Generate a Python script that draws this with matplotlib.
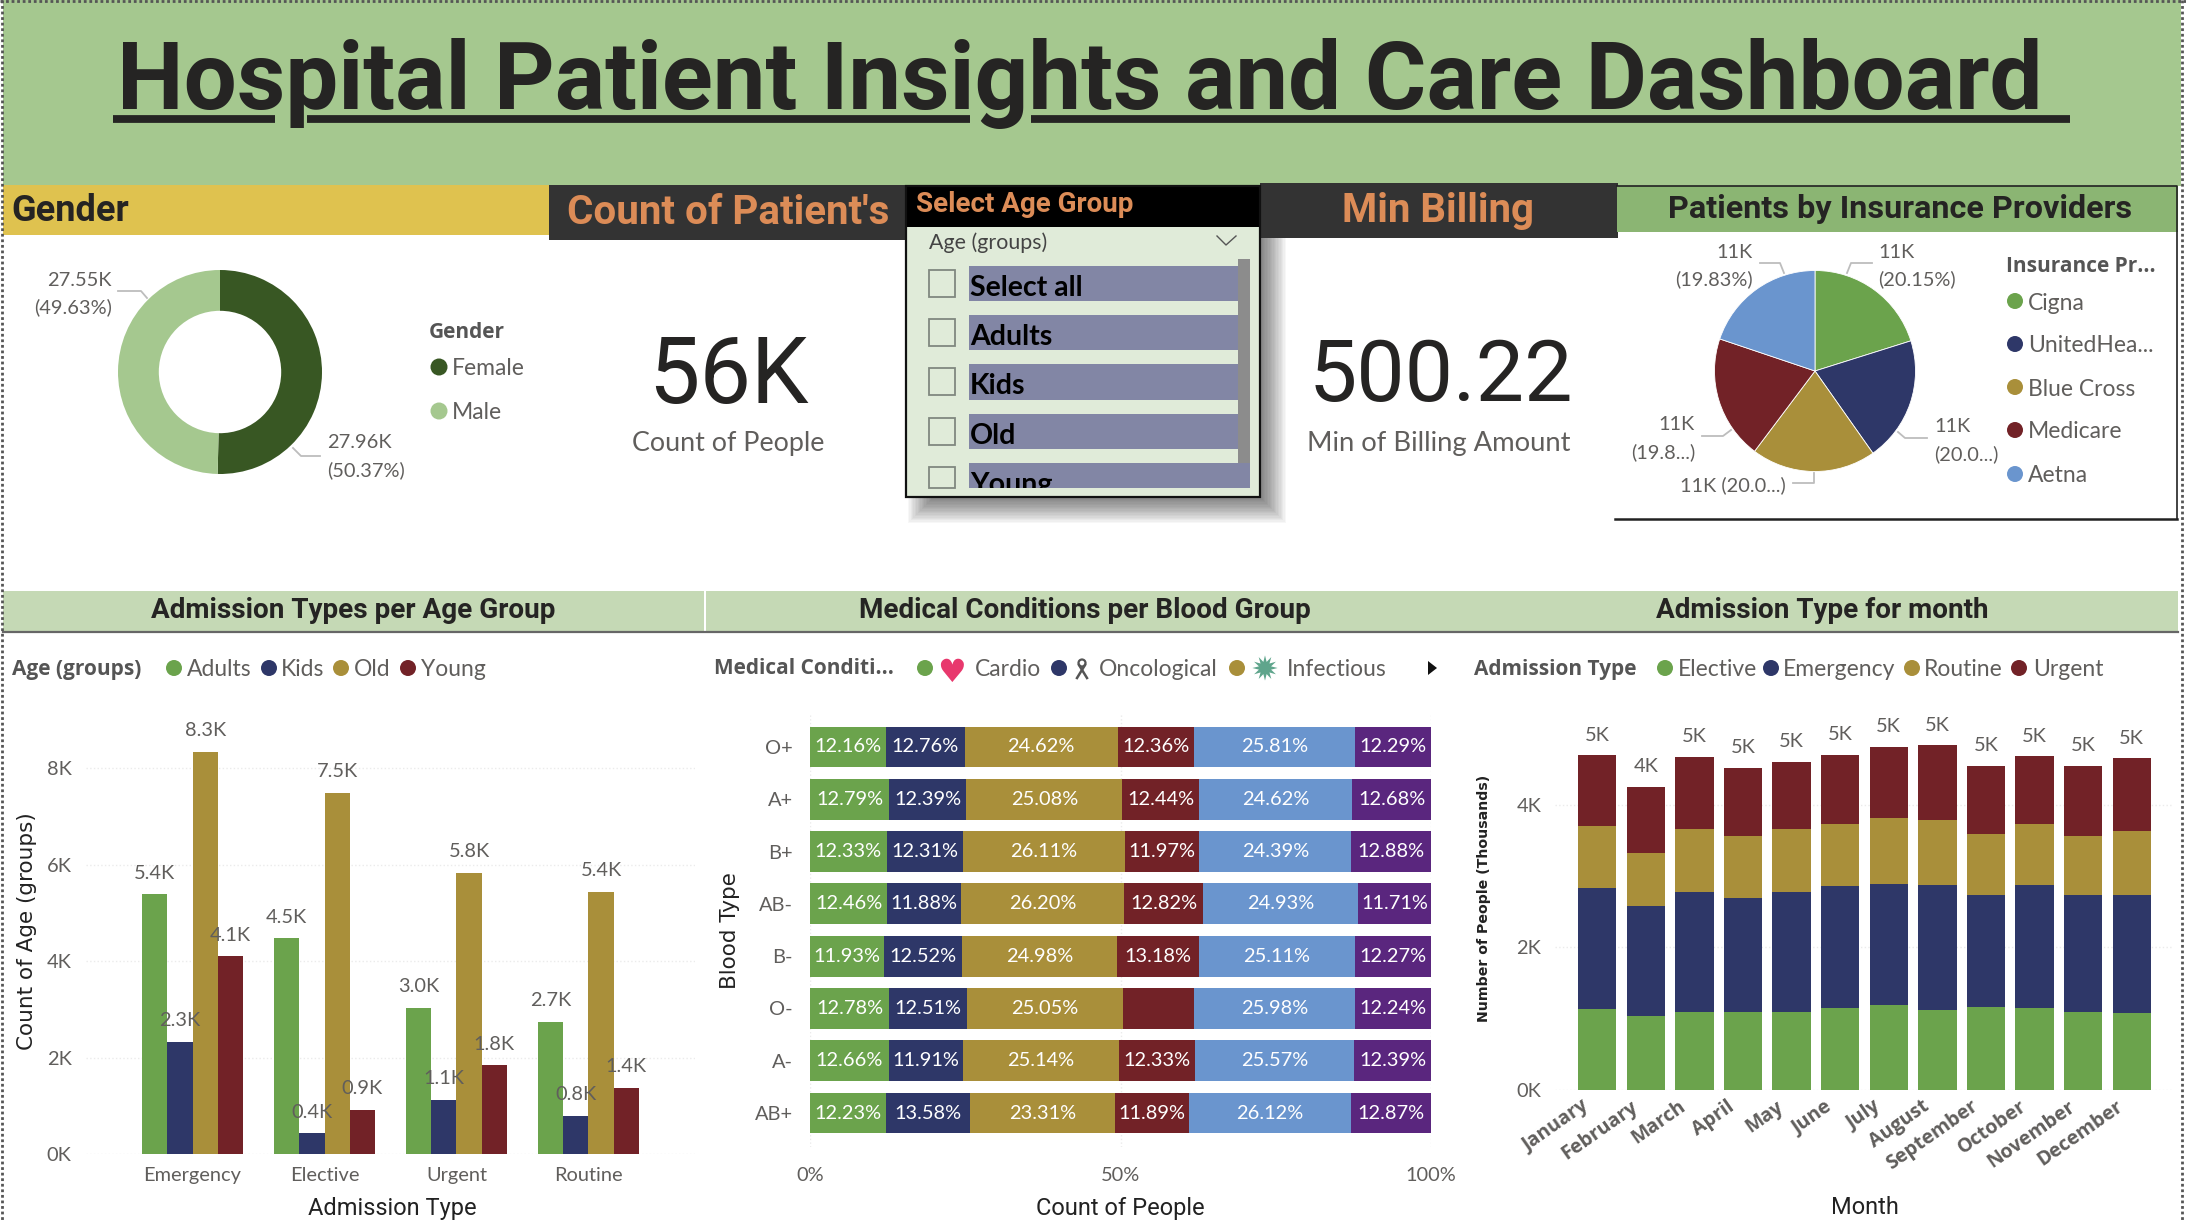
import matplotlib
matplotlib.use("Agg")
import matplotlib.pyplot as plt
from matplotlib.patches import Rectangle, Circle, Polygon
from matplotlib.transforms import ScaledTranslation

W, H = 2186, 1220

# --- data ---
gender_names = ["Female", "Male"]
gender_values = [27.96, 27.55]
gender_pct = ["50.37%", "49.63%"]

insurance_names = ["Cigna", "UnitedHea...", "Blue Cross", "Medicare", "Aetna"]
insurance_values = [20.15, 20.08, 20.04, 19.90, 19.83]

slicer_items = ["Select all", "Adults", "Kids", "Old", "Young"]

admission_types = ["Emergency", "Elective", "Urgent", "Routine"]
age_groups = ["Adults", "Kids", "Old", "Young"]
adults = [5.39, 4.48, 3.03, 2.74]
kids = [2.33, 0.43, 1.13, 0.79]
old = [8.34, 7.49, 5.84, 5.44]
young = [4.10, 0.92, 1.84, 1.37]

blood_types = ["O+", "A+", "B+", "AB-", "B-", "O-", "A-", "AB+"]
cond_1 = [12.16, 12.79, 12.33, 12.46, 11.93, 12.78, 12.66, 12.23]
cond_2 = [12.76, 12.39, 12.31, 11.88, 12.52, 12.51, 11.91, 13.58]
cond_3 = [24.62, 25.08, 26.11, 26.20, 24.98, 25.05, 25.14, 23.31]
cond_4 = [12.36, 12.44, 11.97, 12.82, 13.18, 11.44, 12.33, 11.89]
cond_5 = [25.81, 24.62, 24.39, 24.93, 25.11, 25.98, 25.57, 26.12]
cond_6 = [12.29, 12.68, 12.88, 11.71, 12.27, 12.24, 12.39, 12.87]

months = ["January", "February", "March", "April", "May", "June", "July",
          "August", "September", "October", "November", "December"]
elective = [1.136, 1.033, 1.090, 1.090, 1.096, 1.142, 1.188, 1.119, 1.159, 1.142, 1.090, 1.073]
emergency = [1.704, 1.543, 1.692, 1.606, 1.687, 1.727, 1.704, 1.761, 1.583, 1.733, 1.652, 1.664]
routine = [0.866, 0.757, 0.884, 0.872, 0.878, 0.861, 0.929, 0.912, 0.849, 0.861, 0.826, 0.901]
urgent = [0.993, 0.929, 1.015, 0.958, 0.947, 0.975, 0.998, 1.050, 0.964, 0.952, 0.987, 1.021]

# --- colours and fonts ---
GREEN, NAVY, GOLD, MAROON, BLUE, PURPLE = "#6BA34C", "#2E3768", "#A98F3A", "#722227", "#6A95CE", "#5A267E"
GREY = "#605E5C"
ORANGE = "#DC8C57"
INK = "#252423"
HEAD = ["Liberation Sans Narrow", "Roboto", "DejaVu Sans"]
DIN = ["Roboto", "DejaVu Sans"]
BODY = ["Lato", "DejaVu Sans"]
BOLD = ["Open Sans", "DejaVu Sans"]
BODY_PT = 14.4
LEGEND_PT = 16.5
LEGEND_TITLE_PT = 15

fig = plt.figure(figsize=(W / 100, H / 100), dpi=100, facecolor="white")


def px_axes(x0, y0, x1, y1):
    # axes from pixel box, y measured from the top of the image
    ax = fig.add_axes([x0 / W, 1 - y1 / H, (x1 - x0) / W, (y1 - y0) / H])
    ax.patch.set_alpha(0)
    return ax


chrome = fig.add_axes([0, 0, 1, 1])
chrome.set_xlim(0, W)
chrome.set_ylim(H, 0)
chrome.axis("off")


def box(x0, y0, x1, y1, color, **kw):
    chrome.add_patch(Rectangle((x0, y0), x1 - x0, y1 - y0, facecolor=color, edgecolor="none", **kw))


def txt(x, y, s, size=BODY_PT, color=GREY, family=BODY, ha="left", weight="normal", va="center", **kw):
    return chrome.text(x, y, s, fontsize=size, color=color, family=family, ha=ha, va=va,
                       fontweight=weight, **kw)


def leader(xs, ys):
    chrome.plot(xs, ys, color="#BDBDBD", lw=1.3)


def legend_row(title, x_title, y, entries):
    txt(x_title, y + 1, title, size=LEGEND_TITLE_PT, weight="bold", color="#555555", family=BOLD)
    for dot_x, text_x, label, col in entries:
        chrome.add_patch(Circle((dot_x, y), 8, facecolor=col, edgecolor="none"))
        if label:
            txt(text_x, y + 1.5, label, size=LEGEND_PT)


# --- slicer shadow goes under every band ---
for i in range(20):
    grow = -13 + 26 * i / 19
    box(921 - grow, 200 - grow, 1273 + grow, 510 + grow, "#000000", alpha=0.03)

# --- header bands ---
box(3, 0, 2181, 186, "#A5C88F")
txt(1080, 109, "Hospital Patient Insights and Care Dashboard", size=67.8, color=INK,
    family=DIN, ha="center", weight="bold", va="baseline")
# underline with the gaps left for the descenders of p and g
for x0, x1 in [(113, 275), (307, 970), (1031, 2070)]:
    chrome.plot([x0, x1], [119, 119], color=INK, lw=5.6, solid_capstyle="butt")

box(3, 185, 549, 235, "#DFC24F")
txt(11, 211, "Gender", size=26, color=INK, family=HEAD, weight="bold")
box(549, 185, 906, 240, "#333333")
txt(728, 213, "Count of Patient's", size=29, color=ORANGE, family=HEAD, ha="center", weight="bold")
box(1260, 183, 1618, 238, "#333333")
txt(1438, 211, "Min Billing", size=29, color=ORANGE, family=HEAD, ha="center", weight="bold")
box(1617, 186, 2178, 232, "#8BB573")
txt(1900, 209, "Patients by Insurance Providers", size=23.3, color=INK, family=HEAD, ha="center", weight="bold")
chrome.plot([1617, 2177, 2177], [186, 186, 519], color="#222222", lw=1.2)
chrome.plot([1615, 2177], [519, 519], color="#222222", lw=1.8)

# dotted page borders
for bx in (2, 2182):
    chrome.plot([bx, bx], [0, H], color="#555555", lw=2, ls=(0, (1, 1)))
chrome.plot([0, W], [1, 1], color="#555555", lw=2, ls=(0, (1, 1)))

# --- gender donut ---
ax = px_axes(118, 270, 322, 474)
ax.pie(gender_values, colors=["#385723", "#A5C88F"], startangle=90, counterclock=False, radius=1,
       wedgeprops=dict(width=0.40))
ax.set_xlim(-1, 1)
ax.set_ylim(-1, 1)
txt(327, 443, f"{gender_values[0]}K")
txt(327, 470, f"({gender_pct[0]})")
leader([293, 301, 320], [448, 456, 456])
txt(112, 280, f"{gender_values[1]}K", ha="right")
txt(112, 307, f"({gender_pct[1]})", ha="right")
leader([118, 141, 147], [291, 291, 298])
txt(429, 332, "Gender", size=LEGEND_TITLE_PT, weight="bold", color="#555555", family=BOLD)
for ly, name, col in zip([367, 411], gender_names, ["#385723", "#A5C88F"]):
    chrome.add_patch(Circle((439, ly), 8.5, facecolor=col, edgecolor="none"))
    txt(452, ly + 1.5, name, size=LEGEND_PT)

# --- KPI cards ---
txt(728, 377, "56K", size=66, color=INK, family=DIN, ha="center")
txt(728, 444, "Count of People", size=19.4, ha="center", family=BODY)
txt(1441, 377, "500.22", size=62, color=INK, family=DIN, ha="center")
txt(1439, 443, "Min of Billing Amount", size=19.7, ha="center", family=BODY)

# --- age slicer ---
box(906, 186, 1260, 497, "#E0EBD9")
box(906, 186, 1260, 227, "#000000")
chrome.add_patch(Rectangle((906, 186), 354, 311, facecolor="none", edgecolor="#111111", lw=1.6))
txt(916, 205, "Select Age Group", size=20, color=ORANGE, family=HEAD, weight="bold")
txt(929, 243, "Age (groups)", size=BODY_PT + 1, color="#444444")
chrome.plot([1217, 1226, 1236], [236, 245, 236], color="#555555", lw=1)
box(1238, 259, 1250, 467, "#8C8C8C")
row_top = [266, 315, 364, 414, 463]
row_bot = [301, 350, 400, 449, 488]
for item, y0, y1 in zip(slicer_items, row_top, row_bot):
    box(969, y0, 1250 if item == "Young" else 1238, y1, "#8286A5")
    chrome.add_patch(Rectangle((929, y0 + 4), 26, min(27, y1 - y0 - 4), facecolor="none", edgecolor="#808880", lw=1.3))
    t = txt(970, y0 + 22, item, size=20.5, color="#000000", weight="bold")
    t.set_clip_path(Rectangle((900, 186), 360, 302, transform=chrome.transData))
    t.set_clip_on(True)

# --- insurance pie ---
ax = px_axes(1714.5, 270, 1915.5, 472)
ax.pie(insurance_values, colors=[GREEN, NAVY, GOLD, MAROON, BLUE], startangle=90, counterclock=False,
       wedgeprops=dict(edgecolor="white", linewidth=0.6))
ax.set_xlim(-1, 1)
ax.set_ylim(-1, 1)
txt(1878, 252, "11K")
txt(1878, 279, f"({insurance_values[0]}%)")
leader([1847, 1851, 1872], [273, 263, 263])
txt(1753, 252, "11K", ha="right")
txt(1753, 279, f"({insurance_values[4]}%)", ha="right")
leader([1784, 1780, 1760], [273, 263, 263])
txt(1934, 427, "11K")
txt(1934, 454, "(20.0...)")
leader([1898, 1905, 1927], [432, 438, 438])
txt(1695, 424, "11K", ha="right")
txt(1695, 452, "(19.8...)", ha="right")
leader([1731, 1723, 1702], [430, 436, 436])
txt(1786, 485, "11K (20.0...)", ha="right")
leader([1814, 1814, 1793], [473, 483, 483])
txt(2006, 266, "Insurance Pr...", size=LEGEND_TITLE_PT, weight="bold", color="#555555", family=BOLD)
for ly, name, col in zip([301, 344, 387, 430, 474], insurance_names, [GREEN, NAVY, GOLD, MAROON, BLUE]):
    chrome.add_patch(Circle((2015, ly), 8, facecolor=col, edgecolor="none"))
    txt(2028, ly + 2, name, size=LEGEND_PT)

# --- section headers ---
box(3, 591, 704, 632, "#C5D9B5")
box(706, 591, 2178, 632, "#C5D9B5")
chrome.plot([3, 2178], [632, 632], color="#666666", lw=1.6)
txt(353, 610, "Admission Types per Age Group", size=20.1, color=INK, family=HEAD, ha="center", weight="bold")
txt(1085, 610, "Medical Conditions per Blood Group", size=20.1, color=INK, family=HEAD, ha="center", weight="bold")
txt(1822, 610, "Admission Type for month", size=20.1, color=INK, family=HEAD, ha="center", weight="bold")

# --- legends under the headers ---
legend_row("Age (groups)", 12, 668, [(174, 187, "Adults", GREEN), (269, 281, "Kids", NAVY),
                                     (341, 354, "Old", GOLD), (408, 421, "Young", MAROON)])
legend_row("Medical Conditi...", 714, 668, [(925, 975, "Cardio", GREEN), (1059, 1099, "Oncological", NAVY),
                                            (1237, 1287, "Infectious", GOLD)])
txt(952, 673, "\u2665", size=23, color="#E8386D", family=["DejaVu Sans"], ha="center")
# ribbon and virus icons
chrome.plot([1077, 1085], [678, 665], color="#555555", lw=1.8)
chrome.plot([1087, 1079], [678, 665], color="#555555", lw=1.8)
chrome.add_patch(Circle((1082, 663), 3.5, facecolor="none", edgecolor="#555555", lw=1.6))
chrome.scatter([1265], [668], s=330, marker=(12, 1, 0), color="#5FA58C", edgecolors="none")
chrome.add_patch(Polygon([[1428, 661], [1437, 668], [1428, 675]], facecolor="#111111", edgecolor="none"))
legend_row("Admission Type", 1474, 668, [(1665, 1678, "Elective", GREEN), (1771, 1783, "Emergency", NAVY),
                                         (1912, 1924, "Routine", GOLD), (2019, 2033, "Urgent", MAROON)])


def clean(ax):
    for s in ax.spines.values():
        s.set_visible(False)
    ax.tick_params(length=0, labelcolor=GREY, labelsize=BODY_PT)
    for lab in ax.get_xticklabels() + ax.get_yticklabels():
        lab.set_family(BODY)


def axis_titles(ax, xlabel, xpos, ylabel, ypos, y_size=15.5, y_weight="normal"):
    ax.set_xlabel(xlabel, fontsize=17, color="#222222", family=HEAD)
    ax.xaxis.set_label_coords(xpos[0], xpos[1], transform=chrome.transData)
    ax.xaxis.label.set_va("center")
    ax.set_ylabel(ylabel, fontsize=y_size, color="#222222", family=["DejaVu Sans"], fontweight=y_weight)
    ax.yaxis.set_label_coords(ypos[0], ypos[1], transform=chrome.transData)
    ax.yaxis.label.set_va("center")


# --- clustered columns: admission type per age group ---
ax = px_axes(86, 720.3, 695, 1154)
series = [adults, kids, old, young]
bar_w = 0.765 / 4
for i, (vals, col) in enumerate(zip(series, [GREEN, NAVY, GOLD, MAROON])):
    pos = [c + (i - 1.5) * bar_w for c in range(len(admission_types))]
    ax.bar(pos, vals, width=bar_w, color=col, zorder=2)
    for p, v in zip(pos, vals):
        ax.annotate(f"{v:.1f}K", (p, v), xytext=(0, 15.2), textcoords="offset points", ha="center", va="center",
                    fontsize=BODY_PT, color=GREY, family=BODY, zorder=3)
ax.set_xlim(-0.807, 3.807)
ax.set_ylim(0, 9)
ax.set_xticks(range(4), admission_types)
ax.set_yticks([0, 2, 4, 6, 8], ["0K", "2K", "4K", "6K", "8K"])
ax.grid(axis="y", color="#EBEBEB", ls=":", lw=1, zorder=0)
ax.grid(axis="x", visible=False)
clean(ax)
ax.tick_params(axis="y", pad=10.4)
ax.tick_params(axis="x", pad=9.5)
axis_titles(ax, "Admission Type", (392, 1209), "Count of Age (groups)", (27, 931))

# --- 100% stacked bars: conditions per blood group ---
ax = px_axes(810, 713, 1431, 1147)
left = [0.0] * len(blood_types)
stack = [cond_1, cond_2, cond_3, cond_4, cond_5, cond_6]
for vals, col in zip(stack, [GREEN, NAVY, GOLD, MAROON, BLUE, PURPLE]):
    ax.barh(range(8), vals, left=left, height=0.78, color=col, zorder=2)
    for r, (l, v) in enumerate(zip(left, vals)):
        # the O- value of the fourth series has no label in the original
        if not (col == MAROON and blood_types[r] == "O-"):
            ax.text(l + v / 2, r, f"{v:.2f}%", ha="center", va="center", color="white",
                    fontsize=BODY_PT, family=BODY, zorder=3)
    left = [l + v for l, v in zip(left, vals)]
ax.set_xlim(0, 100)
ax.set_ylim(7.65, -0.65)
ax.set_yticks(range(8), blood_types)
ax.set_xticks([0, 50, 100], ["0%", "50%", "100%"])
ax.grid(axis="x", color="#EBEBEB", ls=":", lw=1, zorder=0)
ax.grid(axis="y", visible=False)
clean(ax)
ax.tick_params(axis="y", pad=12.2)
ax.tick_params(axis="x", pad=14.5)
axis_titles(ax, "Count of People", (1120, 1208), "Blood Type", (730, 931))

# --- stacked columns: admission type per month ---
ax = px_axes(1555, 698.5, 2173, 1089.6)
bottom = [0.0] * len(months)
for vals, col in zip([elective, emergency, routine, urgent], [GREEN, NAVY, GOLD, MAROON]):
    ax.bar(range(12), vals, bottom=bottom, width=0.79, color=col, zorder=2)
    bottom = [b + v for b, v in zip(bottom, vals)]
for m, total in enumerate(bottom):
    ax.annotate(f"{total:.0f}K", (m, total), xytext=(0, 14.5), textcoords="offset points", ha="center", va="center",
                fontsize=BODY_PT, color=GREY, family=BODY)
ax.set_xlim(-0.87, 11.85)
ax.set_ylim(0, 5.5)
ax.set_yticks([0, 2, 4], ["0K", "2K", "4K"])
ax.set_xticks(range(12), months)
ax.grid(axis="y", color="#EBEBEB", ls=":", lw=1, zorder=0)
ax.grid(axis="x", visible=False)
clean(ax)
ax.tick_params(axis="y", pad=10)
ax.tick_params(axis="x", pad=5, labelsize=14)
shift = ScaledTranslation(-16 / 100, 0, fig.dpi_scale_trans)
for lab in ax.get_xticklabels():
    lab.set_family(BOLD)
    lab.set_rotation(35)
    lab.set_ha("right")
    lab.set_rotation_mode("anchor")
    lab.set_fontweight("bold")
    lab.set_transform(lab.get_transform() + shift)
axis_titles(ax, "Month", (1865, 1208), "Number of People (Thousands)", (1484, 898), y_size=10.2, y_weight="bold")

fig.savefig("out.png", dpi=100)
